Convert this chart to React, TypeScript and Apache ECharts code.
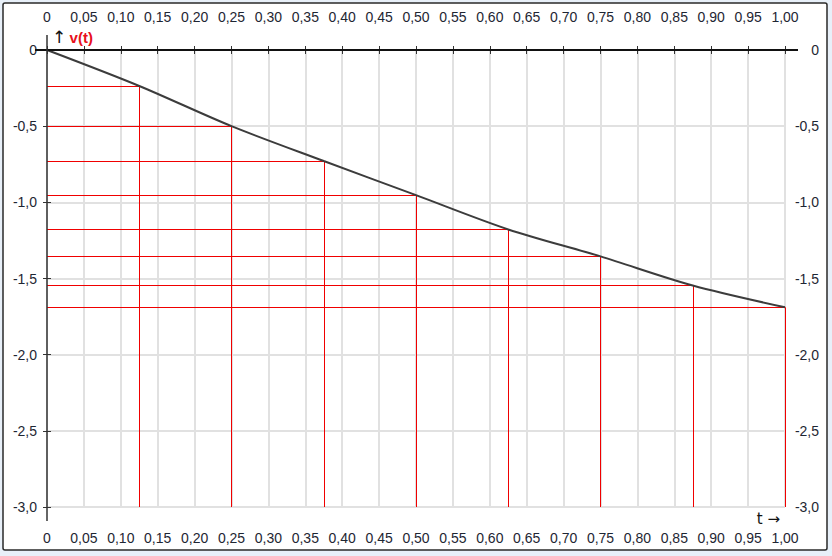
import { useEffect, useRef } from "react";
import * as echarts from "echarts";

// Sample instants and read values of v(t)
const T_VALUES = [0, 0.125, 0.25, 0.375, 0.5, 0.625, 0.75, 0.875, 1];
const V_VALUES = [0, -0.236, -0.5, -0.729, -0.953, -1.178, -1.355, -1.546, -1.689];

const X_MIN = 0;
const X_MAX = 1;
const X_STEP = 0.05;
const Y_MIN = -3;
const Y_MAX = 0;
const Y_STEP = 0.5;

const Y_NAME = "v(t)";
const X_NAME = "t";

const fmtX = (v: number) => (Math.abs(v) < 1e-9 ? "0" : v.toFixed(2).replace(".", ","));
const fmtY = (v: number) => (Math.abs(v) < 1e-9 ? "0" : v.toFixed(1).replace(".", ","));

export default function App() {
  const ref = useRef<HTMLDivElement>(null);

  useEffect(() => {
    const chart = echarts.init(ref.current!, null, { renderer: "svg" });
    const font = "'Liberation Sans', Arial, sans-serif";
    const labelStyle = { fontFamily: font, fontSize: 14, color: "#1e2633" };
    const gridLine = { show: true, lineStyle: { color: "#e1e1e1", width: 2 } };
    const tickStyle = { show: true, inside: true, length: 4, lineStyle: { color: "#333", width: 1 } };

    const curve = T_VALUES.map((t, i) => [t, V_VALUES[i]]);
    const guides: any[] = [];
    T_VALUES.forEach((t, i) => {
      if (i === 0) return;
      const v = V_VALUES[i];
      guides.push([{ coord: [X_MIN, v] }, { coord: [t, v] }]);
      guides.push([{ coord: [t, v] }, { coord: [t, Y_MIN] }]);
    });

    chart.setOption({
      animation: false,
      backgroundColor: "#e8f0f9",
      grid: { left: 47, top: 50, width: 738, height: 457, containLabel: false },
      xAxis: [
        {
          type: "value", position: "bottom", min: X_MIN, max: X_MAX, interval: X_STEP, offset: 43,
          axisLine: { show: false }, axisTick: tickStyle,
          axisLabel: { ...labelStyle, inside: true, margin: 5, formatter: fmtX },
          splitLine: gridLine,
        },
        {
          type: "value", position: "top", min: X_MIN, max: X_MAX, interval: X_STEP, offset: 47,
          axisLine: { show: false }, axisTick: tickStyle,
          axisLabel: { ...labelStyle, inside: true, margin: 7, formatter: fmtX },
          splitLine: { show: false },
        },
      ],
      yAxis: [
        {
          type: "value", position: "left", min: Y_MIN, max: Y_MAX, interval: Y_STEP, offset: 44,
          axisLine: { show: false }, axisTick: tickStyle,
          axisLabel: { ...labelStyle, inside: true, margin: 34, align: "right", formatter: fmtY },
          splitLine: gridLine,
        },
        {
          type: "value", position: "right", min: Y_MIN, max: Y_MAX, interval: Y_STEP, offset: 42,
          axisLine: { show: false }, axisTick: tickStyle,
          axisLabel: { ...labelStyle, inside: true, margin: 8, formatter: fmtY },
          splitLine: { show: false },
        },
      ],
      series: [
        {
          type: "line", data: [], xAxisIndex: 0, yAxisIndex: 0, z: 3,
          markLine: {
            silent: true, symbol: "none", z: 3, animation: false,
            label: { show: false },
            lineStyle: { color: "#f00000", width: 1, type: "solid" },
            emphasis: { disabled: true },
            data: guides,
          },
        },
        {
          type: "line", data: curve, xAxisIndex: 0, yAxisIndex: 0, z: 10,
          symbol: "none", showSymbol: false, smooth: 0.3,
          lineStyle: { color: "#3c3c3c", width: 2 },
        },
      ],
    });

    const p = (x: number, y: number) => chart.convertToPixel({ gridIndex: 0 }, [x, y]) as number[];
    const o = p(X_MIN, Y_MAX);
    const xe = p(X_MAX, Y_MAX);
    const yb = p(X_MIN, Y_MIN);
    const br = p(X_MAX, Y_MIN);

    chart.setOption({
      graphic: [
        {
          type: "rect", z: -10, silent: true,
          shape: { x: 3, y: 3, width: 824, height: 547, r: 2 },
          style: { fill: "#ffffff", stroke: "#2a2a2a", lineWidth: 1.5 },
        },
        {
          type: "line", z: 20, silent: true,
          shape: { x1: o[0] - 12, y1: o[1], x2: xe[0] + 13, y2: o[1] },
          style: { stroke: "#111", lineWidth: 2 },
        },
        {
          type: "line", z: 20, silent: true,
          shape: { x1: o[0], y1: o[1] - 15, x2: o[0], y2: yb[1] + 14 },
          style: { stroke: "#333", lineWidth: 1.5 },
        },
        {
          type: "text", z: 20, silent: true, x: o[0] + 5, y: o[1] - 13,
          style: {
            text: "{a|↑} {b|" + Y_NAME + "}",
            verticalAlign: "middle",
            rich: {
              a: { fontFamily: "'DejaVu Sans', sans-serif", fontSize: 17, fill: "#111" },
              b: { fontFamily: font, fontSize: 15, fontWeight: "bold", fill: "#e8101c" },
            },
          },
        },
        {
          type: "text", z: 20, silent: true, x: br[0] - 5, y: br[1] + 12,
          style: {
            text: X_NAME + " →", align: "right", verticalAlign: "middle",
            fontFamily: "'DejaVu Sans', sans-serif", fontSize: 15, fill: "#111",
          },
        },
      ],
    });

    return () => chart.dispose();
  }, []);

  return <div ref={ref} style={{ position: "absolute", left: 0, top: 0, width: 832, height: 556 }} />;
}
